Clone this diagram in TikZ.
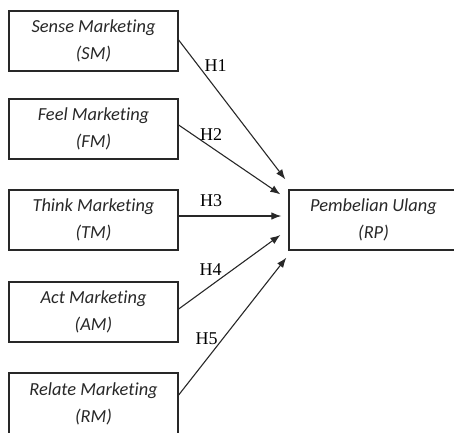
\documentclass[tikz,border=0pt]{standalone}
\usepackage{fontspec}
\setmainfont{Liberation Serif}
\newfontfamily\boxfont[Ligatures=CommonOff]{Carlito}
\usetikzlibrary{arrows.meta, positioning}
\definecolor{inkgray}{RGB}{40,40,40}

\begin{document}
\begin{tikzpicture}[
    x=1pt, y=-1pt,
    box/.style={rectangle, draw=inkgray, line width=1.3pt, fill=white, minimum width=169pt, minimum height=60pt, align=center, inner sep=0pt, text=inkgray, font=\boxfont\itshape\fontsize{18.4}{27}\selectfont},
    hyp/.style={font=\fontsize{18}{20}\selectfont, inner sep=0pt, text=black},
    arrow/.style={-{Latex[length=10pt, width=7.5pt]}, line width=1.1pt, inkgray}
]
\useasboundingbox (0,0) rectangle (454,432);

% Dimensions
\node[box] (sm) at (93.5,41) {Sense Marketing\\(SM)};
\node[box] (fm) at (93.5,129) {Feel Marketing\\(FM)};
\node[box] (tm) at (93.5,220) {Think Marketing\\(TM)};
\node[box] (am) at (93.5,312) {Act Marketing\\(AM)};
\node[box, minimum height=62pt] (rm) at (93.5,404) {Relate Marketing\\(RM)};

% Outcome
\node[box] (rp) at (373.5,220) {Pembelian Ulang\\(RP)};

% Arrow ends around the outcome box
\coordinate (e1) at ([shift={(-3,-10)}]rp.north west);
\coordinate (e2) at ([shift={(-8,5)}]rp.north west);
\coordinate (e3) at ([shift={(-7,-4)}]rp.west);
\coordinate (e4) at ([shift={(-8,15)}]rp.west);
\coordinate (e5) at ([shift={(-2,7)}]rp.south west);

% Hypotheses
\draw[arrow] ([yshift=1pt]sm.east) -- (e1);
\draw[arrow] ([yshift=4pt]fm.east) -- (e2);
\draw[arrow] ([yshift=4pt]tm.east) -- (e3);
\draw[arrow] ([yshift=3pt]am.east) -- (e4);
\draw[arrow] ([yshift=9pt]rm.east) -- (e5);

% Labels
\node[hyp] (h1) at (215.5,66) {H1};
\node[hyp] (h2) at (211,135) {H2};
\node[hyp] (h3) at (211,201) {H3};
\node[hyp] (h4) at (210.5,269.5) {H4};
\node[hyp] (h5) at (206.5,338.5) {H5};

\end{tikzpicture}
\end{document}
